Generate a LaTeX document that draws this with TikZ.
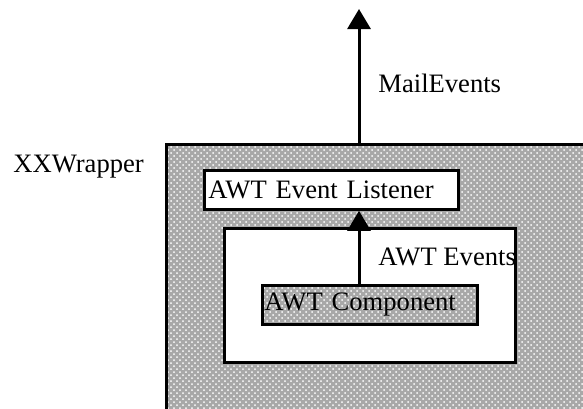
\documentclass[tikz,border=0pt]{standalone}
\usepackage{fontspec}
\setmainfont{Liberation Serif}
\usetikzlibrary{arrows.meta,patterns}

\begin{document}
\begin{tikzpicture}[x=0.5pt,y=-0.5pt,
  every node/.style={font=\fontsize{13.3}{16}\selectfont},
  lbl/.style={inner sep=0pt,anchor=base west},
  box/.style={draw,line width=1.4pt,inner ysep=0pt,minimum height=19.5pt,align=left,anchor=north west},
  dither/.style={preaction={fill=black!34},preaction={pattern=crosshatch dots,pattern color=white}},
  evt/.style={-{Triangle[width=11.5pt,length=10pt]},line width=1.5pt}]
\useasboundingbox (0,0) rectangle (583,408);
\clip (0,0) rectangle (583,408);
\node[draw,dither,line width=1.5pt,minimum width=237.5pt,minimum height=158.5pt,anchor=north west] (wrapper) at (165,143) {};
\node[box,fill=white,minimum width=145.5pt,minimum height=67pt] (panel) at (223,227) {};
\node[box,fill=white,inner xsep=2pt,text width=123pt] (listener) at (203,169) {AWT Event Listener};
\node[box,dither,inner xsep=1pt,text width=105.5pt] (comp) at (261,284) {AWT Component};
\coordinate (mailout) at (359,9);
\draw[evt] (comp.north -| mailout) -- (listener.south -| mailout);
\draw[evt] (wrapper.north -| mailout) -- (mailout);
\node[lbl] (wrapname) at (13,172) {XXWrapper};
\node[lbl] (mailname) at (378,92) {MailEvents};
\node[lbl] (awtname) at (378,265) {AWT Events};
\end{tikzpicture}
\end{document}
